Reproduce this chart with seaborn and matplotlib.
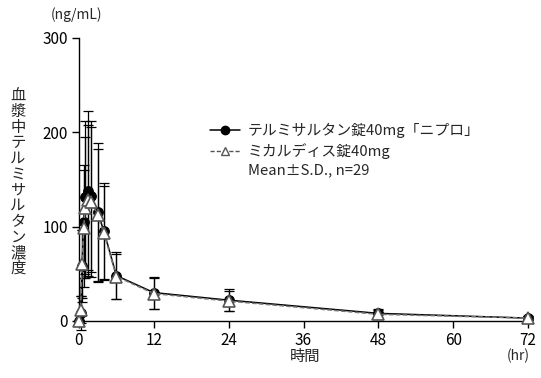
import matplotlib
matplotlib.use("Agg")
import matplotlib.pyplot as plt
import seaborn as sns
import pandas as pd
from matplotlib.lines import Line2D

# ---- data ----
time_hr = [0, 0.25, 0.5, 0.75, 1, 1.5, 2, 3, 4, 6, 12, 24, 48, 72]
test_mean = [0, 8, 58, 105, 131, 138, 132, 115, 95, 48, 30, 22, 8, 3]
test_sd = [0, 18, 38, 60, 81, 84, 80, 74, 51, 25, 17, 12, 5, 2]
ref_mean = [0, 12, 60, 98, 120, 128, 126, 112, 93, 47, 29, 21, 7, 3]
ref_sd = [0, 14, 36, 62, 75, 80, 79, 70, 50, 24, 16, 11, 5, 2]
series_names = ["テルミサルタン錠40mg「ニプロ」", "ミカルディス錠40mg"]
x_ticks = [0, 12, 24, 36, 48, 60, 72]
y_ticks = [0, 100, 200, 300]

sns.set_theme(style="ticks")
plt.rcParams['font.family'] = ['Noto Sans CJK JP', 'DejaVu Sans']

fig = plt.figure(figsize=(5.41, 3.78), dpi=100)
ax = fig.add_axes([0.146, 0.151, 0.830, 0.749])

df = pd.DataFrame({
    "time": time_hr * 2,
    "conc": test_mean + ref_mean,
    "sd": test_sd + ref_sd,
    "group": [series_names[0]] * len(time_hr) + [series_names[1]] * len(time_hr),
})

# error bars (SD)
for name in series_names:
    d = df[df.group == name]
    ax.errorbar(d.time, d.conc, yerr=d.sd, fmt="none", ecolor="black",
                elinewidth=0.9, capsize=3.5, capthick=0.9, zorder=2, clip_on=False)

d1 = df[df.group == series_names[0]]
d2 = df[df.group == series_names[1]]
sns.lineplot(data=d1, x="time", y="conc", ax=ax, color="black", lw=1.1,
             marker="o", markersize=7, markerfacecolor="black",
             markeredgecolor="black", zorder=3, legend=False, clip_on=False)
sns.lineplot(data=d2, x="time", y="conc", ax=ax, color="#777777", lw=1.1,
             linestyle=(0, (3, 1.5)), marker="^", markersize=8,
             markerfacecolor="white", markeredgecolor="#555555",
             markeredgewidth=1.2, zorder=4, legend=False, clip_on=False)

ax.set_xlim(0, 72)
ax.set_ylim(0, 300)
ax.set_xticks(x_ticks)
ax.set_yticks(y_ticks)
ax.set_xlabel("")
ax.set_ylabel("")
ax.tick_params(axis="both", direction="out", length=5, width=1, labelsize=11,
               colors="black", pad=3)
for s in ["top", "right"]:
    ax.spines[s].set_visible(False)
for s in ["left", "bottom"]:
    ax.spines[s].set_color("black")
    ax.spines[s].set_linewidth(1.0)

# axis texts
fig.text(77 / 541, 1 - 15 / 378, "(ng/mL)", ha="center", va="center", fontsize=10)
ylab = "血漿中テルミサルタン濃度"
fig.text(18 / 541, 1 - 182 / 378, "\n".join(ylab), ha="center", va="center",
         fontsize=11, linespacing=0.9)
fig.text(305 / 541, 1 - 356 / 378, "時間", ha="center", va="center", fontsize=11)
fig.text(518 / 541, 1 - 356 / 378, "(hr)", ha="center", va="center", fontsize=10)

# legend
handles = [
    Line2D([0], [0], color="black", lw=1.1, marker="o", markersize=6,
           markerfacecolor="black"),
    Line2D([0], [0], color="#555555", lw=1.0, linestyle=(0, (3, 1.5)),
           marker="^", markersize=6, markerfacecolor="white",
           markeredgecolor="#555555"),
    Line2D([0], [0], color="none"),
]
labels = series_names + ["Mean±S.D., n=29"]
leg = ax.legend(handles, labels, loc="upper left",
                bbox_to_anchor=(0.262, 0.745), frameon=False, fontsize=10.7,
                handlelength=2.0, handletextpad=0.55, labelspacing=0.3)

fig.savefig("out.png", dpi=100)
